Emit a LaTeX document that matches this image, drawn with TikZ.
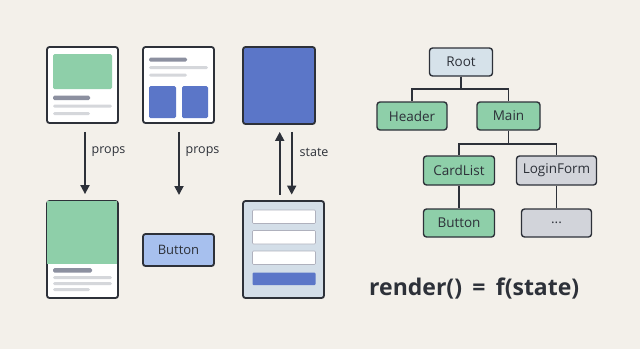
\documentclass[tikz,border=0pt]{standalone}
\usepackage{fontspec}
\setmainfont{Open Sans}
\usetikzlibrary{arrows.meta}
\definecolor{bgcol}{HTML}{F3F0EA}
\definecolor{inkcol}{HTML}{2D3139}
\definecolor{greencol}{HTML}{8ECFA9}
\definecolor{bluecol}{HTML}{5B76C8}
\definecolor{btncol}{HTML}{A7C0EE}
\definecolor{formcol}{HTML}{D3DEE8}
\definecolor{rootcol}{HTML}{D6E2EA}
\definecolor{graycol}{HTML}{D2D4DA}
\definecolor{barcol}{HTML}{8C90A0}
\definecolor{linecol}{HTML}{D5D7DB}
\tikzset{
  card/.style={draw=inkcol, line width=1.8pt, rounded corners=2.5pt, inner sep=0pt},
  arr/.style={draw=inkcol, line width=1.8pt, -{Triangle[length=9pt,width=9pt]}},
  lbl/.style={text=inkcol, font=\fontsize{12.5}{14}\selectfont, anchor=west, inner sep=0pt},
  treebox/.style={draw=inkcol, line width=1.4pt, rounded corners=3pt, minimum height=28pt,
    text=inkcol, font=\fontsize{13.5}{15}\selectfont, inner sep=0pt},
  edge/.style={draw=inkcol, line width=1.4pt}
}
\begin{document}
\begin{tikzpicture}[x=1pt, y=-1pt]
% Background
\fill[bgcol] (0,0) rectangle (640,349);
\useasboundingbox (0,0) rectangle (640,349);
% Top row of cards
\node[card, fill=white, minimum width=71pt, minimum height=76pt] (card) at (82.5,85) {};
\node[card, fill=white, minimum width=71pt, minimum height=76pt] (grid) at (178.5,85) {};
\node[card, fill=bluecol, minimum width=72pt, minimum height=77pt] (stateful) at (279,85.5) {};
% Bottom row of cards
\node[card, fill=white, minimum width=71pt, minimum height=97pt] (cardfull) at (82.5,249.5) {};
\node[card, fill=btncol, minimum width=71pt, minimum height=32pt, text=inkcol,
  font=\fontsize{13}{15}\selectfont] (button) at (178.5,250) {Button};
\node[card, fill=formcol, minimum width=81pt, minimum height=97pt] (form) at (283.5,249.5) {};
% Card contents
\begin{scope}[rounded corners=1.5pt]
  \fill[greencol] (53,54) rectangle (112,89);
  \fill[barcol] (53,95.5) rectangle (90,100);
  \fill[linecol] (53,104.5) rectangle (112,107.5);
  \fill[linecol] (53,112) rectangle (90,115);
  \fill[barcol] (149,57.5) rectangle (187,61.5);
  \fill[linecol] (149,66) rectangle (208,69);
  \fill[linecol] (149,73.5) rectangle (187,76.5);
  \fill[bluecol] (149,86) rectangle (176,118);
  \fill[bluecol] (182,86) rectangle (208,118);
  \fill[barcol] (53,268) rectangle (92,272.5);
  \fill[linecol] (53,276) rectangle (112,279);
  \fill[linecol] (53,282) rectangle (112,285);
  \fill[linecol] (53,288) rectangle (90,291);
\end{scope}
\fill[greencol] ([xshift=0.9pt,yshift=-0.9pt]cardfull.north west) rectangle (117.1,263.5);
% Form fields
\begin{scope}[draw=barcol!70, line width=0.6pt, fill=white, rounded corners=1pt]
  \filldraw (252.5,210) rectangle (315.5,223.5);
  \filldraw (252.5,230.5) rectangle (315.5,244);
  \filldraw (252.5,251) rectangle (315.5,264.5);
\end{scope}
\fill[bluecol, rounded corners=1pt] (252.5,272.5) rectangle (315.5,285);
% Arrows
\coordinate (btntip) at (179,195);
\draw[arr] ([xshift=2.5pt,yshift=-8pt]card.south) -- ([xshift=2.5pt,yshift=6pt]cardfull.north);
\draw[arr] ([xshift=0.5pt,yshift=-8pt]grid.south) -- (btntip);
\draw[arr] ([xshift=-3.8pt,yshift=5.5pt]form.north) -- ([xshift=0.7pt,yshift=-7pt]stateful.south);
\draw[arr] ([xshift=12.7pt,yshift=-7pt]stateful.south) -- ([xshift=8.2pt,yshift=5.5pt]form.north);
\node[lbl] (props1) at (91.5,152) {props};
\node[lbl] (props2) at (185.5,152) {props};
\node[lbl] (statelbl) at (299.5,152) {state};
% Component tree
\node[treebox, fill=rootcol, minimum width=63pt] (root) at (461,62) {Root};
\node[treebox, fill=greencol, minimum width=70pt] (header) at (412,116) {Header};
\node[treebox, fill=greencol, minimum width=63pt] (main) at (508.5,116) {Main};
\node[treebox, fill=greencol, minimum width=71pt, minimum height=29pt] (cardlist) at (459,170.5) {CardList};
\node[treebox, fill=graycol, minimum width=80pt, minimum height=29pt] (loginform) at (556.5,170.5) {LoginForm};
\node[treebox, fill=greencol, minimum width=71pt] (treebtn) at (459,223) {Button};
\node[treebox, fill=graycol, minimum width=70pt] (more) at (556.5,223) {...};
\draw[edge] (root.south) -- ++(0,12.3) -| (header.north);
\draw[edge] (root.south) -- ++(0,12.3) -| (main.north);
\draw[edge] (main.south) -- ++(0,13.3) -| (cardlist.north);
\draw[edge] (main.south) -- ++(0,13.3) -| (loginform.north);
\draw[edge] (cardlist) -- (treebtn);
\draw[edge] (loginform) -- (more);
% Formula
\node[text=inkcol, font=\fontsize{23}{26}\bfseries, anchor=base west, inner sep=0pt] (formula)
  at (369,295) {render()\hspace{0.45em}=\hspace{0.45em}f(state)};
\end{tikzpicture}
\end{document}
